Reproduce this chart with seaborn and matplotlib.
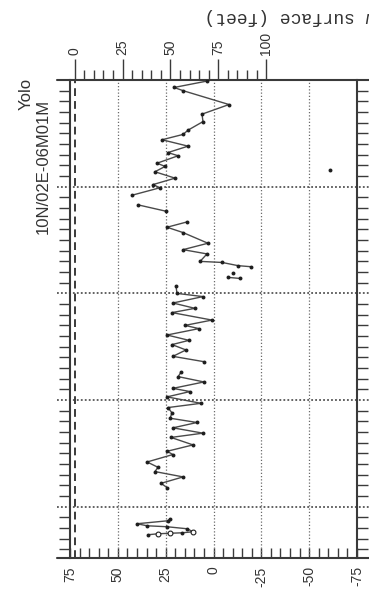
import numpy as np
import pandas as pd
import matplotlib
matplotlib.use("Agg")
import matplotlib.pyplot as plt
import seaborn as sns
from matplotlib.ticker import FixedLocator

sns.set_theme(style="white")
plt.rcParams["font.family"] = ["Liberation Sans", "DejaVu Sans"]

# Well 10N/02E-06M01M, Yolo County: water-surface elevation (ft) by date (decimal year)
GROUND_SURFACE = 72.5

seg_1957_years = [1957.38, 1957.47, 1957.52, 1957.56, 1957.66, 1957.94, 1958.13, 1958.22, 1958.41, 1958.69, 1958.88]
seg_1957_elev = [34.2, 29.0, 22.7, 16.5, 10.7, 13.8, 24.3, 34.7, 40.0, 23.8, 22.7]
seg_1957_open = [False, True, True, False, True, False, False, False, False, False, False]

seg_1961_years = [1961.8, 1962.2, 1962.8, 1963.3, 1963.7, 1964.2, 1964.9, 1965.2, 1965.8, 1966.5,
                  1966.9, 1967.4, 1967.9, 1968.3, 1968.8, 1969.3, 1969.7, 1970.3, 1970.8, 1971.1,
                  1971.7, 1972.2, 1972.6]
seg_1961_elev = [24.3, 27.4, 15.9, 30.6, 29.0, 34.7, 21.2, 24.3, 10.7, 22.2,
                 5.5, 21.2, 8.6, 22.7, 21.7, 23.8, 6.5, 24.3, 12.3, 21.2,
                 5.0, 18.5, 17.0]

seg_1973_years = [1973.6, 1974.1, 1974.7, 1975.2, 1975.6, 1976.1, 1976.7, 1977.0, 1977.5, 1978.2,
                  1978.6, 1979.1, 1979.7, 1980.0, 1980.7]
seg_1973_elev = [5.0, 21.2, 14.4, 21.7, 12.8, 24.3, 7.6, 14.9, 0.8, 21.7,
                 9.7, 21.2, 5.5, 19.1, 19.6]

seg_1981_years = [1981.4, 1981.5]
seg_1981_elev = [-13.9, -7.6]

seg_1982_years = [1982.5, 1982.6, 1982.9, 1983.0, 1983.7, 1984.1, 1984.7, 1985.7, 1986.2, 1986.7]
seg_1982_elev = [-19.6, -12.8, -4.5, 7.0, 3.4, 15.9, 2.9, 15.9, 24.3, 13.8]

seg_1987_years = [1987.7, 1988.3]
seg_1987_elev = [24.8, 39.5]

seg_1989_years = [1989.2, 1989.9, 1990.2, 1990.8, 1991.4, 1991.9, 1992.2, 1992.9, 1993.2, 1993.8,
                  1994.4, 1994.9, 1995.3, 1996.1, 1996.8, 1997.7, 1999.0, 1999.3, 1999.9]
seg_1989_elev = [42.6, 28.0, 31.6, 20.1, 30.6, 25.3, 29.5, 18.5, 23.8, 13.3,
                 26.9, 15.9, 13.3, 5.5, 6.0, -8.1, 15.9, 20.6, 3.4]

single_years = [1981.9, 1991.6]
single_elev = [-10.2, -60.9]

elev_ticks = [75, 50, 25, 0, -25, -50, -75]
elev_labels = ["75", "50", "25", "0", "-25", "-50", "-75"]
depth_ticks = [0, 25, 50, 75, 100]
decades = [1960, 1970, 1980, 1990]
YEAR_MIN, YEAR_MAX = 1955.2, 2000.0

segments = [
    ("1957", seg_1957_years, seg_1957_elev),
    ("1961", seg_1961_years, seg_1961_elev),
    ("1973", seg_1973_years, seg_1973_elev),
    ("1981", seg_1981_years, seg_1981_elev),
    ("1982", seg_1982_years, seg_1982_elev),
    ("1987", seg_1987_years, seg_1987_elev),
    ("1989", seg_1989_years, seg_1989_elev),
]
lines = pd.concat(
    [pd.DataFrame({"year": y, "elevation": e, "segment": name}) for name, y, e in segments],
    ignore_index=True,
)
open_mask = pd.Series([False] * len(lines))
open_mask.iloc[: len(seg_1957_open)] = seg_1957_open
filled = pd.concat(
    [lines[~open_mask.values][["year", "elevation"]],
     pd.DataFrame({"year": single_years, "elevation": single_elev})],
    ignore_index=True,
)
hollow = lines[open_mask.values]

fig = plt.figure(figsize=(3.69, 5.93), dpi=100)
ax = fig.add_axes([70 / 369, 35 / 593, 287 / 369, 478 / 593])

ink = "#3a3a3a"

# vertical elevation grid and ground-surface line
for e in [50, 25, 0, -25, -50]:
    ax.axvline(e, color="#6a6a6a", lw=0.9, ls=(0, (1, 1.6)), zorder=1)
ax.axvline(GROUND_SURFACE, color=ink, lw=1.4, ls=(0, (4, 2.6)), zorder=2)

# decade lines run past both frame edges
for yr in decades:
    ax.axhline(yr, xmin=-0.045, xmax=1.045, color="#555555", lw=1.3,
               ls=(0, (1, 1.2)), clip_on=False, zorder=1)
for yr in (YEAR_MIN, YEAR_MAX):
    ax.axhline(yr, xmin=-0.045, xmax=1.045, color=ink, lw=1.5, clip_on=False, zorder=3)

sns.lineplot(data=lines, x="elevation", y="year", units="segment", estimator=None,
             orient="y", color="#4a4a4a", lw=1.0, legend=False, ax=ax, zorder=4)
sns.scatterplot(data=filled, x="elevation", y="year", color="#1e1e1e", s=8,
                linewidth=0, legend=False, ax=ax, zorder=5)
sns.scatterplot(data=hollow, x="elevation", y="year", facecolor="white",
                edgecolor="#1e1e1e", s=12, linewidth=0.8, legend=False, ax=ax, zorder=5)

ax.set_xlim(75, -75)
ax.set_ylim(YEAR_MIN, YEAR_MAX)
ax.set_xlabel("")
ax.set_ylabel("")

for side in ("top", "bottom"):
    ax.spines[side].set_visible(False)
for side in ("left", "right"):
    ax.spines[side].set_color(ink)
    ax.spines[side].set_linewidth(1.5)

# elevation axis along the bottom
ax.set_xticks(elev_ticks)
ax.set_xticklabels(elev_labels, rotation=90, fontsize=10, color="#333333")
ax.xaxis.set_minor_locator(FixedLocator([v for v in range(-70, 75, 5) if v % 25 != 0]))
ax.tick_params(axis="x", which="both", direction="in", length=7, width=1.0,
               color=ink, bottom=True, top=False, pad=6)

# yearly ticks on both sides of the time axis
ax.set_yticks(decades)
ax.yaxis.set_minor_locator(FixedLocator([y for y in range(1956, 2000) if y % 10 != 0]))
ax.tick_params(axis="y", which="minor", direction="out", length=8, width=1.0,
               color=ink, left=True, right=True)
ax.tick_params(axis="y", which="major", length=0, labelleft=False, labelright=False)

# depth below ground surface along the top
sec = ax.secondary_xaxis("top", functions=(lambda e: GROUND_SURFACE - e,
                                           lambda d: GROUND_SURFACE - d))
sec.set_xticks(depth_ticks)
sec.set_xticklabels([str(d) for d in depth_ticks], rotation=90, fontsize=10, color="#333333")
sec.xaxis.set_minor_locator(FixedLocator([d for d in range(5, 100, 5) if d % 25 != 0]))
sec.tick_params(axis="x", which="major", direction="out", length=15, width=1.0, color=ink, pad=3)
sec.tick_params(axis="x", which="minor", direction="out", length=7, width=1.0, color=ink)
for sp in sec.spines.values():
    sp.set_visible(False)

fig.text(205 / 369, 1 - 17 / 593, "Depth below surface (feet)", rotation=180,
         ha="left", va="center", family="Liberation Mono", fontsize=13, color="#333333")

fig.text(26 / 369, 1 - 94 / 593, "Yolo", rotation=90, ha="center", va="center",
         fontsize=12, color="#333333")
fig.text(43 / 369, 1 - 166 / 593, "10N/02E-06M01M", rotation=90, ha="center", va="center",
         fontsize=12, color="#333333")

fig.savefig("out.png", dpi=100, facecolor="white")
